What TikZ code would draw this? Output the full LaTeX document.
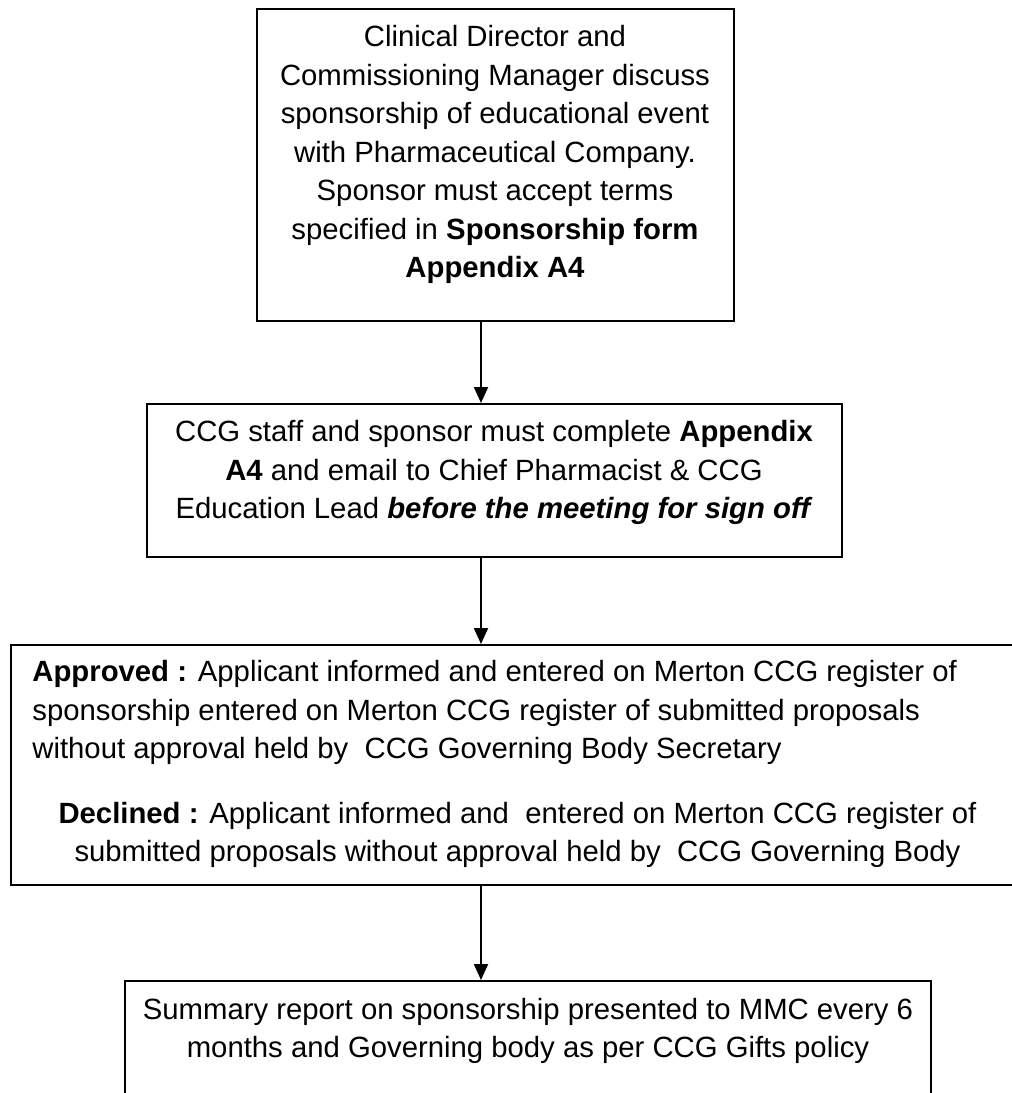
\documentclass[tikz,border=0pt]{standalone}
\usepackage{fontspec}
\setmainfont{Liberation Sans}
\usetikzlibrary{arrows.meta}
\begin{document}
\begin{tikzpicture}[x=0.5pt,y=-0.5pt,
  box/.style={draw,line width=1pt,rectangle,inner sep=0pt},
  txt/.style={inner sep=0pt,font=\fontsize{14.65}{19.25}\selectfont},
  arr/.style={line width=1pt,-{Triangle[length=8pt,width=7pt]}}]
\clip (0,0) rectangle (1012,1093);
% boxes
\node[box,minimum width=238.5pt,minimum height=155.7pt] (b1) at (495,165) {};
\node[box,minimum width=347.5pt,minimum height=76.5pt] (b2) at (494,480.5) {};
\node[box,minimum width=506.5pt,minimum height=120pt] (b3) at (517.5,765) {};
\node[box,minimum width=403pt,minimum height=80pt] (b4) at (528,1061) {};
% texts
\node[txt,anchor=north,align=center] (t1) at (495,25.2) {Clinical Director and\\Commissioning Manager discuss\\sponsorship of educational event\\with Pharmaceutical Company.\\Sponsor must accept terms\\specified in \textbf{Sponsorship form}\\\textbf{Appendix A4}};
\node[txt,anchor=north,align=center] (t2) at (494,420.2) {CCG staff and sponsor must complete \textbf{Appendix}\\\textbf{A4} and email to Chief Pharmacist \& CCG\\Education Lead \textbf{\textit{before the meeting for sign off}}};
\node[txt,anchor=north west,align=left] (t3a) at (32,660.2) {\textbf{Approved :} Applicant informed and entered on Merton CCG register of\\sponsorship entered on Merton CCG register of submitted proposals\\without approval held by\ \ CCG Governing Body Secretary};
\node[txt,anchor=north,align=center] (t3b) at (517.5,801.5) {\textbf{Declined :} Applicant informed and\ \ entered on Merton CCG register of\\submitted proposals without approval held by\ \ CCG Governing Body};
\node[txt,anchor=north,align=center] (t4) at (528,997.5) {Summary report on sponsorship presented to MMC every 6\\months and Governing body as per CCG Gifts policy};
% connectors
\coordinate (ax) at (481,0);
\draw[arr] (ax |- b1.south) -- (ax |- b2.north);
\draw[arr] (ax |- b2.south) -- (ax |- b3.north);
\draw[arr] (ax |- b3.south) -- (ax |- b4.north);
\end{tikzpicture}
\end{document}
